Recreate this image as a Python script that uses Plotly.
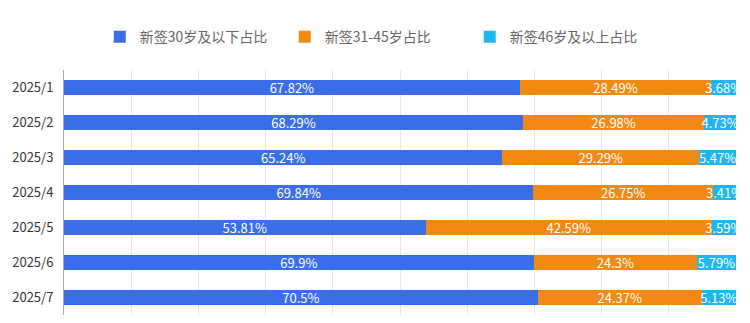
import plotly.graph_objects as go

categories = ["2025/1", "2025/2", "2025/3", "2025/4", "2025/5", "2025/6", "2025/7"]
young = [67.82, 68.29, 65.24, 69.84, 53.81, 69.9, 70.5]
middle = [28.49, 26.98, 29.29, 26.75, 42.59, 24.3, 24.37]
senior = [3.68, 4.73, 5.47, 3.41, 3.59, 5.79, 5.13]
names = ["新签30岁及以下占比", "新签31-45岁占比", "新签46岁及以上占比"]
colors = ["#3A6EE8", "#F28912", "#1FB5F0"]

FONT = "Noto Sans CJK SC, Microsoft YaHei, sans-serif"

fig = go.Figure()
for vals, name, color in zip([young, middle, senior], names, colors):
    fig.add_trace(go.Bar(
        y=categories, x=vals, name=name, orientation="h",
        marker=dict(color=color, line=dict(width=0)),
        text=[f"{v:g}%" for v in vals],
        textposition="inside", insidetextanchor="middle", textangle=0,
        textfont=dict(color="white", size=13, family=FONT),
        width=0.45, cliponaxis=True,
    ))

fig.update_layout(
    barmode="stack",
    width=750, height=323,
    margin=dict(l=64, r=14, t=70, b=8, autoexpand=False),
    paper_bgcolor="white", plot_bgcolor="white",
    font=dict(family=FONT, size=13, color="#333"),
    uniformtext=dict(mode="show", minsize=13),
    showlegend=True,
    legend=dict(orientation="h", x=0.503, xanchor="center", xref="container",
                y=0.885, yanchor="middle", yref="container",
                font=dict(size=14, color="#666", family=FONT),
                entrywidth=140, entrywidthmode="pixels",
                traceorder="normal"),
    xaxis=dict(range=[0, 100], dtick=10, showticklabels=False,
               showgrid=True, gridcolor="#e6e6e6", gridwidth=1,
               zeroline=False, showline=False, fixedrange=True),
    yaxis=dict(autorange="reversed", showline=True, linecolor="#a8a8a8",
               linewidth=1, showgrid=False, ticks="",
               tickfont=dict(size=13, color="#333", family=FONT),
               ticklabelstandoff=7),
    bargap=0.55,
)

fig.write_html("out.html")
